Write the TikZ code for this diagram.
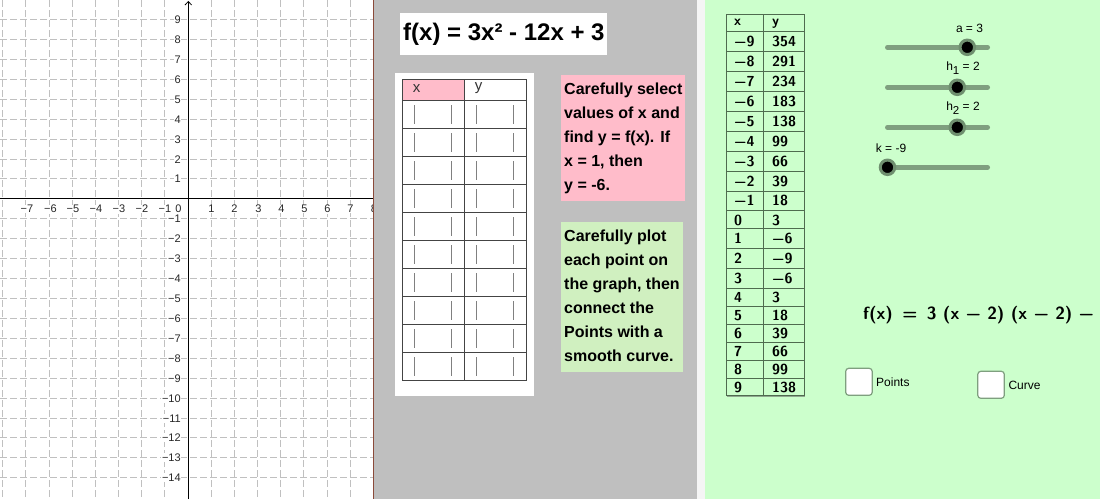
\documentclass[tikz,border=0pt]{standalone}
\usepackage{fontspec}
\setmainfont{Liberation Sans}
\usetikzlibrary{arrows.meta}
\definecolor{gridc}{HTML}{C0C0C0}
\definecolor{panel}{HTML}{BFBFBF}
\definecolor{mint}{HTML}{CCFFCC}
\definecolor{strip}{HTML}{F5F5F5}
\definecolor{pinkbox}{HTML}{FFBCCA}
\definecolor{greenbox}{HTML}{D0F0C0}
\definecolor{edgebrown}{HTML}{8B4A3A}
\definecolor{tabline}{HTML}{444444}
\definecolor{gtabline}{HTML}{4F6B4F}
\definecolor{gshadow}{HTML}{8FA88F}
\definecolor{track}{HTML}{7F9F7F}
\definecolor{ring}{HTML}{6F8F6F}
\definecolor{barc}{HTML}{808080}
\tikzset{
  x=1pt,y=-1pt,
  gridline/.style={draw=gridc,line width=0.9pt,dash pattern=on 7pt off 3pt},
  axisline/.style={draw=black,line width=1pt},
  ticklabel/.style={font=\fontsize{11}{13}\selectfont,text=black!85,fill=white,inner sep=0.6pt},
  boldtext/.style={font=\fontsize{16}{18}\selectfont\bfseries,anchor=base west,inner sep=0pt},
  titletext/.style={font=\fontsize{24}{28}\selectfont\bfseries,anchor=base west,inner sep=0pt},
  headertext/.style={font=\fontsize{15}{17}\selectfont,text=black!80,inner sep=0pt},
  mathcell/.style={font=\sffamily\bfseries\fontsize{14.5}{16}\selectfont,anchor=base west,inner sep=0pt},
  mathhead/.style={font=\sffamily\bfseries\fontsize{14}{16}\selectfont,anchor=base west,inner sep=0pt},
  sliderlabel/.style={font=\fontsize{12}{14}\selectfont,inner sep=0pt},
  trackline/.style={draw=track,line width=5pt,line cap=round},
  knob/.style={circle,fill=black,draw=ring,line width=3pt,minimum size=14.5pt,inner sep=0pt},
  checkbox/.style={rounded corners=3pt,fill=white,draw=track,line width=1.2pt},
  checklabel/.style={font=\fontsize{12}{14}\selectfont,anchor=west,inner sep=0pt},
  cellbar/.style={draw=barc,line width=1.1pt},
}
\newcommand{\dropsub}[1]{\raisebox{-4pt}{\fontsize{11.5}{13}\selectfont #1}}
\begin{document}
\begin{tikzpicture}
\useasboundingbox (0,0) rectangle (1100,499);
% panels
\fill[white] (0,0) rectangle (374,499);
\fill[panel] (374,0) rectangle (697,499);
\fill[strip] (697,0) rectangle (705,499);
\fill[mint] (705,0) rectangle (1100,499);
% grid
\begin{scope}
\clip (0,0) rectangle (373,499);
\foreach \gx in {2.3,25.3,49.7,72.3,95.3,118.3,141.3,164.3,211.3,234.3,257.3,280.3,303.3,327.3,350.3}
  \draw[gridline] (\gx,0) -- (\gx,499);
\foreach \gy in {19.3,39.3,59.3,79.3,99.3,119.3,139.3,159.3,178.3,218.3,238.3,258.3,278.3,298.3,318.3,338.3,358.3,378.3,398.3,418.3,437.3,457.3,477.3}
  \draw[gridline] (0,\gy) -- (373,\gy);
\draw[axisline] (0,198.3) -- (373,198.3);
\draw[axisline] (188.3,499) -- (188.3,1.5);
\draw[axisline,line width=0.8pt] (185,5) -- (188.3,1.5) -- (191.6,5);
% x tick labels
\foreach \lx/\txt in {27/−7,50.5/−6,73/−5,96/−4,119/−3,142/−2,165/−1,178.5/0,211.5/1,234.5/2,258.5/3,281.5/4,304.5/5,327.5/6,350.5/7,374/8}
  \node[ticklabel] (xl\txt) at (\lx,209) {\txt};
% y tick labels
\foreach \ly/\txt in {19.3/9,39.3/8,59.3/7,79.3/6,99.3/5,119.3/4,139.3/3,159.3/2,178.3/1,218.3/−1,238.3/−2,258.3/−3,278.3/−4,298.3/−5,318.3/−6,338.3/−7,358.3/−8,378.3/−9,398.3/−10,418.3/−11,437.3/−12,457.3/−13,477.3/−14}
  \node[ticklabel,anchor=east] (yl\txt) at (181.5,\ly) {\txt};
\end{scope}
\draw[edgebrown,line width=1pt] (373.5,0) -- (373.5,499);
% title
\fill[white] (400,13) rectangle (607,55);
\node[titletext] (title) at (403,40) {f(x) = 3x² - 12x + 3};
% worksheet table
\fill[white] (395,73) rectangle (534,396);
\fill[pinkbox] (402.5,79.5) rectangle (464.5,100);
\draw[tabline,line width=1pt] (402.5,79.5) rectangle (526.5,380);
\draw[tabline,line width=1pt] (464.5,79.5) -- (464.5,380);
\foreach \ry in {100,128,156,184,212.3,240.3,268.3,296.3,324.3,352.3}
  \draw[tabline,line width=1pt] (402.5,\ry) -- (526.5,\ry);
\foreach \ry in {100,128,156,184,212.3,240.3,268.3,296.3,324.3,352.3}
  \foreach \bx in {414.7,451.7,476.7,513.7}
    \draw[cellbar] (\bx,\ry+5) -- (\bx,\ry+23.5);
\node[headertext] (hx) at (416.5,88.5) {x};
\node[headertext] (hy) at (478.5,88.5) {y};
% instruction boxes
\fill[pinkbox] (561,75) rectangle (685,201);
\node[boldtext] (p1) at (564,94) {Carefully select};
\node[boldtext] (p2) at (564,118) {values of x and};
\node[boldtext] (p3) at (564,142) {find y = f(x). If};
\node[boldtext] (p4) at (564,166) {x = 1, then};
\node[boldtext] (p5) at (564,190) {y = -6.};
\fill[greenbox] (561,222) rectangle (683,372);
\node[boldtext] (g1) at (564,241) {Carefully plot};
\node[boldtext] (g2) at (564,265) {each point on};
\node[boldtext] (g3) at (564,289) {the graph, then};
\node[boldtext] (g4) at (564,313) {connect the};
\node[boldtext] (g5) at (564,337) {Points with a};
\node[boldtext] (g6) at (564,361) {smooth curve.};
% value table
\draw[gshadow,line width=1.6pt] (804.3,14.5) -- (804.3,396.2) -- (726.5,396.2);
\draw[gtabline,line width=1pt] (726.5,14.5) rectangle (804,395.7);
\draw[gtabline,line width=1pt] (763.5,14.5) -- (763.5,395.7);
\foreach \ry in {31.5,51.5,71.5,91.5,111.3,131.3,151.3,171.3,191.3,210.7,228.7,248.7,268.7,288.7,306.7,324.7,342.7,360.7,378.7}
  \draw[gtabline,line width=1pt] (726.5,\ry) -- (804,\ry);
\node[mathhead] (vhx) at (734,25) {x};
\node[mathhead] (vhy) at (772,25) {y};
\foreach \by/\vx/\vy in {46.5/−9/354,66.5/−8/291,86.5/−7/234,106.5/−6/183,126/−5/138,146/−4/99,166/−3/66,186/−2/39,205.5/−1/18,225/0/3,243.5/1/−6,263.5/2/−9,283.5/3/−6,302.5/4/3,320.5/5/18,338.5/6/39,356.5/7/66,374.5/8/99,392.5/9/138}{
  \node[mathcell] (vx\by) at (734,\by) {\vx};
  \node[mathcell] (vy\by) at (772,\by) {\vy};
}
% sliders
\draw[trackline] (887.5,47.3) -- (987.5,47.3);
\draw[trackline] (887.5,87.3) -- (987.5,87.3);
\draw[trackline] (887.5,127.3) -- (987.5,127.3);
\draw[trackline] (887.5,167.3) -- (987.5,167.3);
\node[knob] (ka) at (967.3,47.3) {};
\node[knob] (kh1) at (957.3,87.3) {};
\node[knob] (kh2) at (957.3,127.3) {};
\node[knob] (kk) at (887.5,167.3) {};
\node[sliderlabel] (la) at (969.5,28) {a = 3};
\node[sliderlabel] (lh1) at (963,68.5) {h\dropsub{1} = 2};
\node[sliderlabel] (lh2) at (963,108.5) {h\dropsub{2} = 2};
\node[sliderlabel] (lk) at (891,148) {k = -9};
% formula
\node[font=\sffamily\bfseries\fontsize{17.6}{20}\selectfont,anchor=base west,inner sep=0pt] (formula) at (863,319) {f(x) \,=\, 3 (x − 2) (x − 2) −};
% checkboxes
\draw[checkbox] (845.7,368.3) rectangle (872.2,395.3);
\node[checklabel] (cp) at (876,382) {Points};
\draw[checkbox] (977.8,371.3) rectangle (1004.3,398.3);
\node[checklabel] (cc) at (1008.3,385) {Curve};
\end{tikzpicture}
\end{document}
